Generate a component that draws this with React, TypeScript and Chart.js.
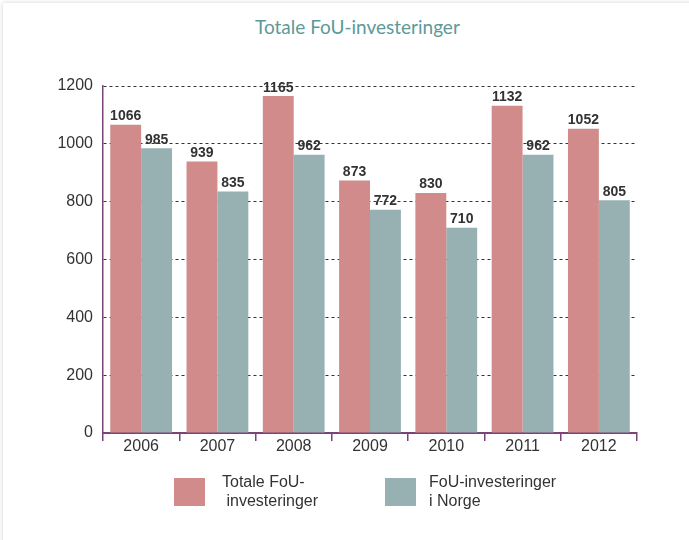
import React, { useEffect, useRef } from 'react';
import { Chart, registerables } from 'chart.js';

Chart.register(...registerables);

const titleText = 'Totale FoU-investeringer';
const years = ['2006', '2007', '2008', '2009', '2010', '2011', '2012'];
const totalInvest = [1066, 939, 1165, 873, 830, 1132, 1052];
const norwayInvest = [985, 835, 962, 772, 710, 962, 805];
const seriesNames = [['Totale FoU-', ' investeringer'], ['FoU-investeringer', 'i Norge']];
const seriesColors = ['#d08b8a', '#97b0b2'];
const yMax = 1200;
const yStep = 200;

const PURPLE = '#7a4479';
const TEXT = '#333333';

const valueLabels = {
  id: 'valueLabels',
  afterDatasetsDraw(chart: any) {
    const ctx = chart.ctx;
    ctx.save();
    ctx.font = 'bold 14px "Liberation Sans", Arial, sans-serif';
    ctx.fillStyle = TEXT;
    ctx.textAlign = 'center';
    ctx.textBaseline = 'alphabetic';
    chart.data.datasets.forEach((ds: any, i: number) => {
      const meta = chart.getDatasetMeta(i);
      meta.data.forEach((bar: any, j: number) => {
        ctx.fillText(String(ds.data[j]), bar.x, bar.y - 4.5);
      });
    });
    ctx.restore();
  },
};

export default function App() {
  const ref = useRef<HTMLCanvasElement>(null);
  useEffect(() => {
    if (!ref.current) return;
    const chart = new Chart(ref.current, {
      type: 'bar',
      data: {
        labels: years,
        datasets: [
          { label: seriesNames[0].join(''), data: totalInvest, backgroundColor: seriesColors[0], categoryPercentage: 0.81, barPercentage: 1.0 },
          { label: seriesNames[1].join(' '), data: norwayInvest, backgroundColor: seriesColors[1], categoryPercentage: 0.81, barPercentage: 1.0 },
        ],
      },
      options: {
        responsive: false,
        animation: false,
        layout: { padding: { left: 0, right: 52, top: 86, bottom: 77 } },
        plugins: {
          legend: { display: false },
          tooltip: { enabled: false },
          title: { display: false },
        },
        scales: {
          x: {
            afterFit: (s: any) => { s.height = 30; },
            grid: { offset: true, drawOnChartArea: false, drawTicks: true, tickLength: 8, color: PURPLE, lineWidth: 1.5 },
            border: { display: true, color: PURPLE, width: 2 },
            ticks: { color: TEXT, font: { family: '"Liberation Sans", Arial, sans-serif', size: 16 }, padding: -4 },
          },
          y: {
            min: 0,
            max: yMax,
            afterFit: (s: any) => { s.width = 103; },
            grid: {
              drawTicks: false,
              color: (c: any) => (c.tick && c.tick.value === 0 ? 'rgba(0,0,0,0)' : '#333333'),
              lineWidth: 1,
            },
            border: { display: true, color: PURPLE, width: 1.5, dash: [3, 3] },
            ticks: {
              stepSize: yStep,
              color: TEXT,
              font: { family: '"Liberation Sans", Arial, sans-serif', size: 16 },
              padding: 10,
              callback: (v: any) => String(v),
            },
          },
        },
      },
      plugins: [valueLabels],
    } as any);
    return () => chart.destroy();
  }, []);

  const legendText: React.CSSProperties = {
    position: 'absolute',
    top: 472,
    font: '16px "Liberation Sans", Arial, sans-serif',
    lineHeight: '19px',
    color: TEXT,
    whiteSpace: 'pre',
  };

  return (
    <div style={{ position: 'fixed', left: 0, top: 0, width: 689, height: 540, background: '#ffffff', overflow: 'hidden' }}>
      <div style={{ position: 'absolute', left: 3, top: 3, width: 720, height: 580, background: '#fff', boxShadow: '0 0 5px rgba(0,0,0,0.18)' }} />
      <div
        style={{
          position: 'absolute',
          left: 255,
          width: 200,
          top: 14,
          textAlign: 'center',
          whiteSpace: 'nowrap',
          font: '19px Lato, "Open Sans", sans-serif',
          lineHeight: '26px',
          color: '#5d9999',
        }}
      >
        {titleText}
      </div>
      <canvas ref={ref} width={689} height={540} style={{ position: 'absolute', left: 0, top: 0 }} />
      <div style={{ position: 'absolute', left: 174, top: 478, width: 31, height: 28, background: seriesColors[0] }} />
      <div style={{ ...legendText, left: 222 }}>{seriesNames[0].join('\n')}</div>
      <div style={{ position: 'absolute', left: 385, top: 478, width: 31, height: 28, background: seriesColors[1] }} />
      <div style={{ ...legendText, left: 429 }}>{seriesNames[1].join('\n')}</div>
    </div>
  );
}
